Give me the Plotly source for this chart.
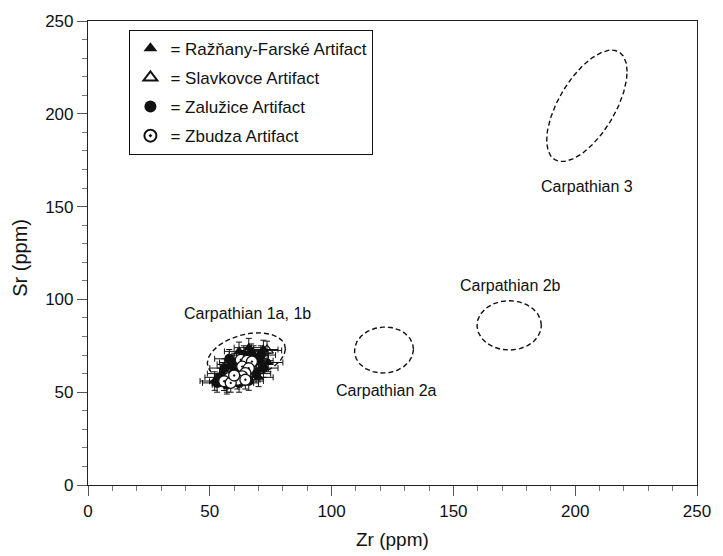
import numpy as np
import plotly.graph_objects as go

# ---- data ----
razn_zr = [52, 55, 57, 60, 70, 72, 74, 68, 66, 62]
razn_sr = [56, 60, 55, 66, 58, 73, 66, 70, 74, 72]

slav_zr = [73.5]
slav_sr = [72.5]

zal_zr = [54, 56, 58, 53, 60, 67, 70, 72, 69, 64, 59, 57, 71, 66, 62]
zal_sr = [58, 63, 68, 55, 61, 71, 67, 63, 60, 70, 65, 54, 70, 56, 55]

zbu_zr = [62.7, 65.3, 67.3, 63.3, 66.0, 64.6, 63.3, 61.3, 57.9, 55.9, 58.6, 64.6, 60.0]
zbu_sr = [67.4, 66.9, 66.5, 63.8, 62.9, 60.3, 58.5, 56.7, 57.6, 55.9, 55.0, 56.7, 59.0]

zr_err = 6
sr_err = 5

# source ellipses: name, centre, half-extents, phase (deg)
ell_names = ["Carpathian 1a, 1b", "Carpathian 2a", "Carpathian 2b", "Carpathian 3"]
ell_cx = [65.0, 121.5, 172.9, 204.8]
ell_cy = [69.5, 72.7, 86.0, 204.3]
ell_rx = [16.0, 12.1, 13.2, 16.5]
ell_ry = [12.5, 12.4, 13.3, 30.0]
ell_phase = [72, 88, 90, 52]

lab_x = [65.3, 122.6, 173.4, 204.8]
lab_y = [92.6, 51.0, 107.4, 160.6]

FONT = "Liberation Sans, Arial, Helvetica, sans-serif"
INK = "#111111"

fig = go.Figure()

t = np.linspace(0, 2 * np.pi, 200)
for cx, cy, rx, ry, ph in zip(ell_cx, ell_cy, ell_rx, ell_ry, ell_phase):
    d = np.deg2rad(ph)
    fig.add_trace(go.Scatter(
        x=cx + rx * np.cos(t), y=cy + ry * np.cos(t - d),
        mode="lines", line=dict(color=INK, width=1.4, dash="5px,3px"),
        showlegend=False, hoverinfo="skip"))

def err(v):
    return dict(type="constant", value=v, color=INK, thickness=1, width=3)

# (legend rank, name, x, y, marker) -- drawn in this order
series = [
    (1, "= Ražňany-Farské Artifact", razn_zr, razn_sr, dict(symbol="triangle-up", color=INK, size=10)),
    (3, "= Zalužice Artifact", zal_zr, zal_sr, dict(symbol="circle", color=INK, size=10)),
    (4, "= Zbudza Artifact", zbu_zr, zbu_sr, dict(symbol="circle-dot", color="white", size=11, line=dict(width=1.3, color=INK))),
    (2, "= Slavkovce Artifact", slav_zr, slav_sr, dict(symbol="triangle-up-open", color=INK, size=11, line=dict(width=1.2, color=INK))),
]
for rank, name, xs, ys, mk in series:
    fig.add_trace(go.Scatter(
        x=xs, y=ys, mode="markers", name=name, marker=mk,
        error_x=err(zr_err), error_y=err(sr_err),
        legendgroup=f"g{rank}", legendrank=rank))

for txt, x, y in zip(ell_names, lab_x, lab_y):
    fig.add_annotation(x=x, y=y, text=txt, showarrow=False,
                       font=dict(family=FONT, size=16, color=INK))

fig.add_annotation(xref="paper", yref="paper", x=0.5, y=-0.117, text="Zr (ppm)",
                   showarrow=False, yanchor="middle",
                   font=dict(family=FONT, size=19, color=INK))
fig.add_annotation(xref="paper", yref="paper", x=-0.113, y=0.49, text="Sr (ppm)",
                   showarrow=False, textangle=-90, xanchor="center", yanchor="middle",
                   font=dict(family=FONT, size=20, color=INK))

axis_common = dict(
    range=[0, 250], dtick=50, tick0=0, ticks="outside", ticklen=10, tickwidth=1,
    tickcolor="#555", showline=True, linecolor="#222", linewidth=1.2, mirror=True,
    showgrid=False, zeroline=False,
    tickfont=dict(family=FONT, size=17, color=INK),
    minor=dict(dtick=10, ticks="outside", ticklen=5, tickcolor="#777", showgrid=False),
)
fig.update_xaxes(**axis_common)
fig.update_yaxes(**axis_common)

fig.update_layout(
    width=723, height=556,
    margin=dict(l=88, r=15, t=15, b=71),
    paper_bgcolor="white", plot_bgcolor="white",
    font=dict(family=FONT, color=INK),
    legend=dict(x=0.068, y=0.981, xanchor="left", yanchor="top",
                bgcolor="white", bordercolor=INK, borderwidth=1,
                font=dict(family=FONT, size=17, color=INK),
                itemsizing="constant", tracegroupgap=4, traceorder="grouped"),
    showlegend=True,
)

fig.write_html("out.html", config={"displayModeBar": False},
               post_script="document.body.style.margin='0';document.body.style.overflow='hidden';")
